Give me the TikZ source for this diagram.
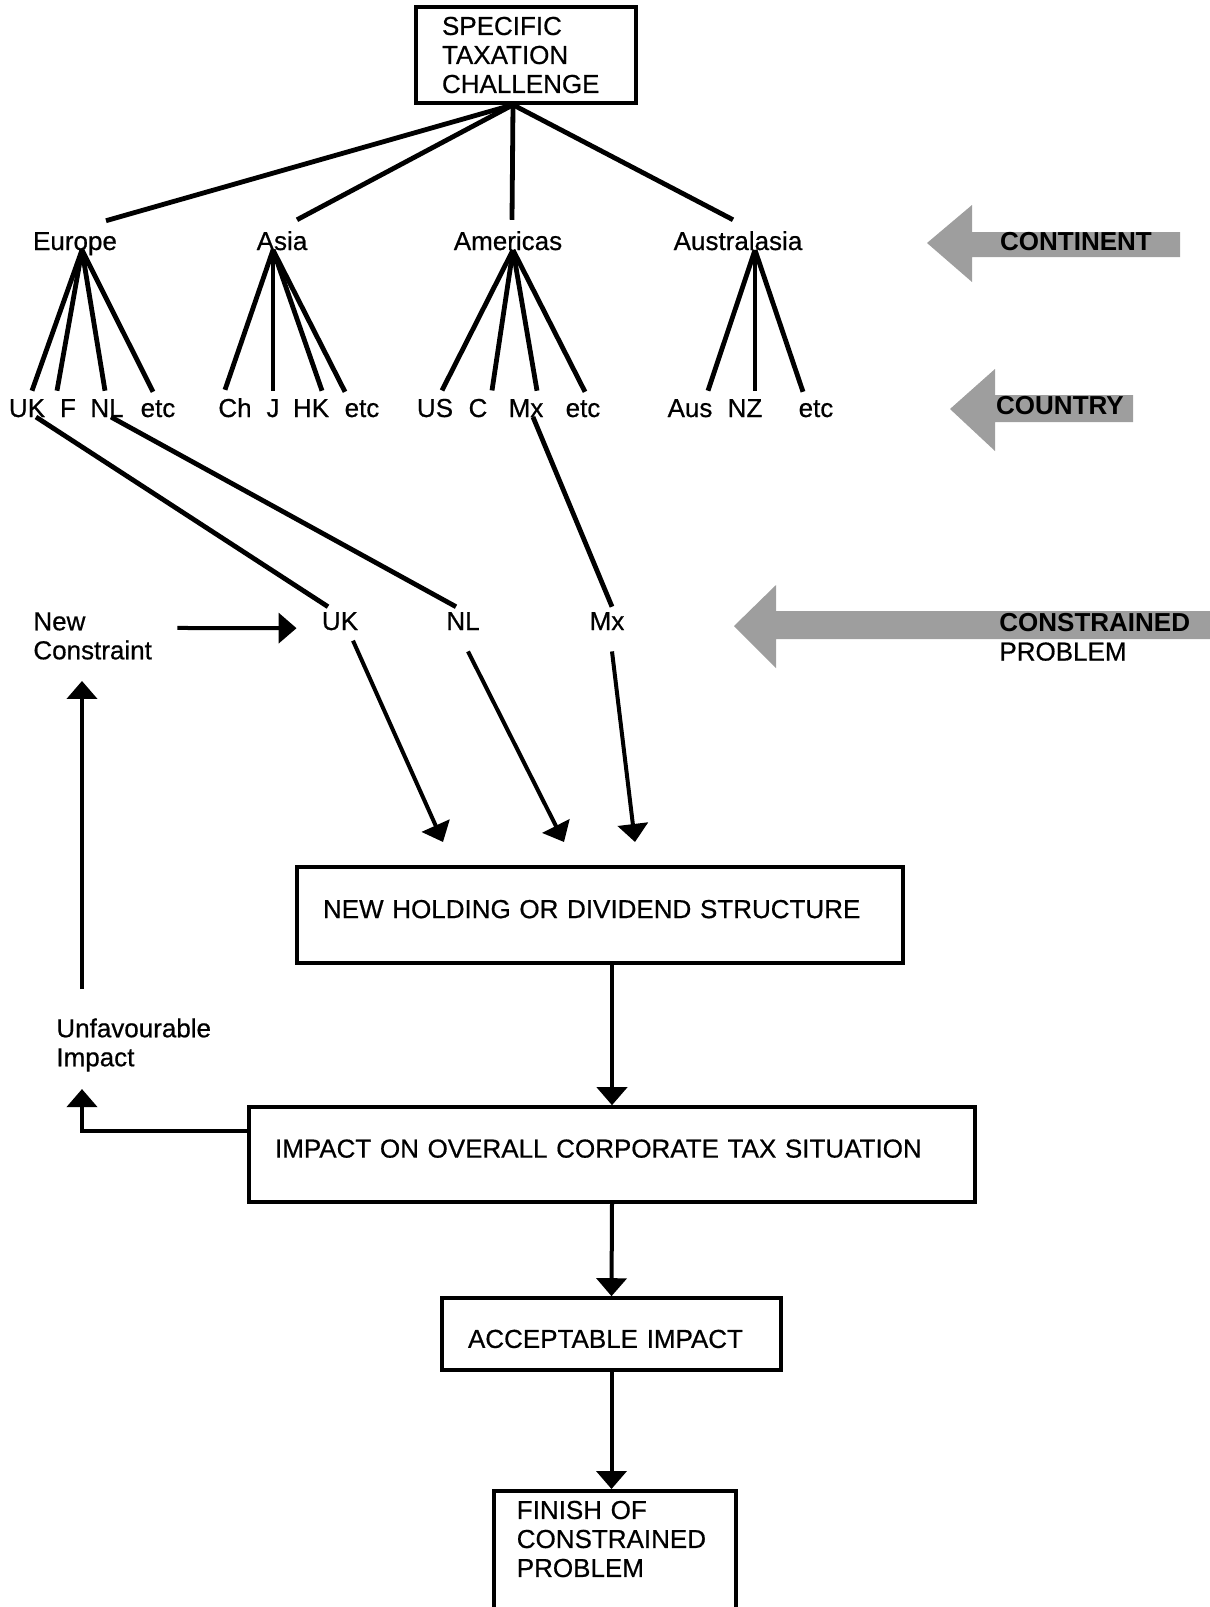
\documentclass[tikz,border=0pt]{standalone}
\usepackage{fontspec}
\setmainfont{Liberation Sans}[UprightFeatures={FakeBold=0.6}]
\usetikzlibrary{arrows.meta}
\newcommand{\diagfont}{\fontsize{13}{14.5}\selectfont}

\begin{document}
\begin{tikzpicture}[x=0.5pt, y=-0.5pt, font=\diagfont,
                    box/.style={draw, line width=1.8pt, align=left, inner xsep=13pt},
                    cont/.style={anchor=base, inner xsep=0pt, inner ysep=5.5pt},
                    ctry/.style={anchor=base, inner xsep=0pt, inner ysep=4pt},
                    branch/.style={line width=2.4pt},
                    arr/.style={line width=2pt, -{Triangle[length=9pt,width=15pt]}},
                    band/.style={fill=black!38},
                    tag/.style={anchor=base, inner sep=0pt, font=\diagfont\bfseries}]
  \useasboundingbox (0,0) rectangle (1210,1607);

  % level banners
  \fill[band] (927,243) -- (972,205) -- (972,232) -- (1180,232) -- (1180,257)
              -- (972,257) -- (972,282) -- cycle;
  \fill[band] (950,409) -- (995,369) -- (995,395) -- (1133,395) -- (1133,422)
              -- (995,422) -- (995,451) -- cycle;
  \fill[band] (734,626) -- (776,585) -- (776,611) -- (1210,611) -- (1210,639)
              -- (776,639) -- (776,668) -- cycle;
  \node[tag] (contlbl) at (1076,250) {CONTINENT};
  \node[tag] (ctrylbl) at (1060,414) {COUNTRY};
  \node[anchor=north west, inner sep=0pt, align=left] (conlbl) at (999,613)
    {\textbf{CONSTRAINED}\\PROBLEM};

  % tree
  \node[box, text width=84pt, minimum height=48pt] (root) at (526,55)
    {SPECIFIC\\TAXATION\\CHALLENGE};
  \node[cont] (eur) at (75,250) {Europe};
  \node[cont] (asia) at (282,250) {Asia};
  \node[cont] (amer) at (508,250) {Americas};
  \node[cont] (aust) at (738,250) {Australasia};
  \foreach \nm/\s in {eur/15.5, asia/7.5, amer/2, aust/-2.5}
    \draw[branch] ([xshift=-6.5pt]root.south) -- ([xshift=\s pt]\nm.north);

  \foreach \nm/\lab/\x in {uk/UK/27, f/F/68, nl/NL/107, eetc/etc/158,
                           ch/Ch/235, j/J/273, hk/HK/311, aetc/etc/362,
                           us/US/435, c/C/478, mx/Mx/526, metc/etc/583,
                           aus/Aus/690, nz/NZ/745, oetc/etc/816}
    \node[ctry] (\nm) at (\x,417) {\lab};
  \foreach \nm/\s in {uk/2.5, f/-5.5, nl/-1, eetc/-2.5}
    \draw[branch] ([xshift=3.5pt]eur.base) -- ([xshift=\s pt]\nm.north);
  \foreach \nm/\s in {ch/-5, j/0, hk/5.5, aetc/-8.5}
    \draw[branch] ([xshift=-4.5pt]asia.base) -- ([xshift=\s pt]\nm.north);
  \foreach \nm/\s in {us/3.5, c/7, mx/5.5, metc/1}
    \draw[branch] ([xshift=2.5pt]amer.base) -- ([xshift=\s pt]\nm.north);
  \foreach \nm/\s in {aus/9, nz/5, oetc/-6.5}
    \draw[branch] ([xshift=8.5pt]aust.base) -- ([xshift=\s pt]\nm.north);

  % constrained problem
  \node[ctry, inner ysep=2.5pt] (uk2) at (340,630) {UK};
  \node[ctry, inner ysep=2.5pt] (nl2) at (463,630) {NL};
  \node[ctry, inner ysep=2.5pt] (mx2) at (607,630) {Mx};
  \draw[branch] ([xshift=4.5pt]uk.base) -- ([xshift=-6pt]uk2.north);
  \draw[branch] ([xshift=2pt]nl.base) -- ([xshift=-3.5pt]nl2.north);
  \draw[branch] ([xshift=3.5pt]mx.base) -- ([xshift=2.5pt]mx2.north);

  \node[anchor=north west, inner sep=0pt, align=left] (nc) at (33,612) {New\\Constraint};
  \node[anchor=north west, inner sep=0pt, align=left] (unf) at (56,1018) {Unfavourable\\Impact};

  \node[box, text width=277pt, minimum height=48pt, text depth=6pt] (hold) at (600,915)
    {NEW HOLDING OR DIVIDEND STRUCTURE};
  \node[box, text width=337pt, minimum height=47.5pt, text depth=6pt] (imp) at (612,1154.5)
    {IMPACT ON OVERALL CORPORATE TAX SITUATION};
  \node[box, text width=143.5pt, minimum height=36pt, text height=14pt] (acc) at (611.5,1334)
    {ACCEPTABLE IMPACT};
  \node[box, text width=98pt, inner xsep=11.5pt, inner ysep=5pt, text depth=60pt,
        anchor=north west] (fin) at (492,1489) {FINISH OF\\CONSTRAINED\\PROBLEM};

  \coordinate (ukin) at (443,842);
  \coordinate (nlin) at (564,842);
  \coordinate (mxin) at (635,842);
  \draw[arr] ([xshift=6.5pt,yshift=-2.5pt]uk2.south) -- (ukin);
  \draw[arr] ([xshift=2.5pt,yshift=-8pt]nl2.south) -- (nlin);
  \draw[arr] ([xshift=2.5pt,yshift=-8pt]mx2.south) -- (mxin);
  \draw[arr] ([xshift=12.5pt,yshift=4pt]nc.east) -- ([xshift=-12.5pt,yshift=-3.5pt]uk2.west);

  \draw[arr] (imp.north |- hold.south) -- (imp.north);
  \draw[arr] (imp.south) -- (acc.north);
  \draw[arr] (acc.south) -- (acc.south |- fin.north);

  % feedback loop
  \draw[arr] ([yshift=12pt]imp.west) -| ([xshift=13pt,yshift=-8.5pt]unf.south west);
  \draw[arr] ([xshift=13pt,yshift=14.5pt]unf.north west) -- ([xshift=24.5pt,yshift=-10.5pt]nc.south west);
\end{tikzpicture}
\end{document}
